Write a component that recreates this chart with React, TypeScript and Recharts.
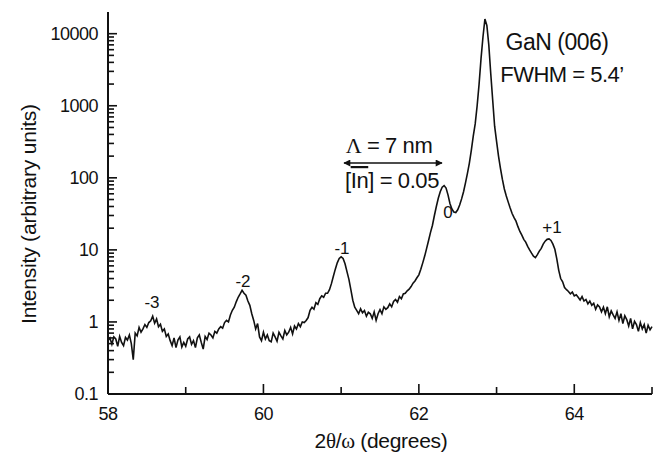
import React from "react"
import { LineChart, Line, XAxis, YAxis } from "recharts"

// 2theta/omega scan, sampled every 0.025 deg
const angles = [
  58.0, 58.025, 58.05, 58.075, 58.1, 58.125, 58.15, 58.175, 58.2, 58.225,
  58.25, 58.275, 58.3, 58.325, 58.35, 58.375, 58.4, 58.425, 58.45, 58.475,
  58.5, 58.525, 58.55, 58.575, 58.6, 58.625, 58.65, 58.675, 58.7, 58.725,
  58.75, 58.775, 58.8, 58.825, 58.85, 58.875, 58.9, 58.925, 58.95, 58.975,
  59.0, 59.025, 59.05, 59.075, 59.1, 59.125, 59.15, 59.175, 59.2, 59.225,
  59.25, 59.275, 59.3, 59.325, 59.35, 59.375, 59.4, 59.425, 59.45, 59.475,
  59.5, 59.525, 59.55, 59.575, 59.6, 59.625, 59.65, 59.675, 59.7, 59.725,
  59.75, 59.775, 59.8, 59.825, 59.85, 59.875, 59.9, 59.925, 59.95, 59.975,
  60.0, 60.025, 60.05, 60.075, 60.1, 60.125, 60.15, 60.175, 60.2, 60.225,
  60.25, 60.275, 60.3, 60.325, 60.35, 60.375, 60.4, 60.425, 60.45, 60.475,
  60.5, 60.525, 60.55, 60.575, 60.6, 60.625, 60.65, 60.675, 60.7, 60.725,
  60.75, 60.775, 60.8, 60.825, 60.85, 60.875, 60.9, 60.925, 60.95, 60.975,
  61.0, 61.025, 61.05, 61.075, 61.1, 61.125, 61.15, 61.175, 61.2, 61.225,
  61.25, 61.275, 61.3, 61.325, 61.35, 61.375, 61.4, 61.425, 61.45, 61.475,
  61.5, 61.525, 61.55, 61.575, 61.6, 61.625, 61.65, 61.675, 61.7, 61.725,
  61.75, 61.775, 61.8, 61.825, 61.85, 61.875, 61.9, 61.925, 61.95, 61.975,
  62.0, 62.025, 62.05, 62.075, 62.1, 62.125, 62.15, 62.175, 62.2, 62.225,
  62.25, 62.275, 62.3, 62.325, 62.35, 62.375, 62.4, 62.425, 62.45, 62.475,
  62.5, 62.525, 62.55, 62.575, 62.6, 62.625, 62.65, 62.675, 62.7, 62.725,
  62.75, 62.775, 62.8, 62.825, 62.85, 62.875, 62.9, 62.925, 62.95, 62.975,
  63.0, 63.025, 63.05, 63.075, 63.1, 63.125, 63.15, 63.175, 63.2, 63.225,
  63.25, 63.275, 63.3, 63.325, 63.35, 63.375, 63.4, 63.425, 63.45, 63.475,
  63.5, 63.525, 63.55, 63.575, 63.6, 63.625, 63.65, 63.675, 63.7, 63.725,
  63.75, 63.775, 63.8, 63.825, 63.85, 63.875, 63.9, 63.925, 63.95, 63.975,
  64.0, 64.025, 64.05, 64.075, 64.1, 64.125, 64.15, 64.175, 64.2, 64.225,
  64.25, 64.275, 64.3, 64.325, 64.35, 64.375, 64.4, 64.425, 64.45, 64.475,
  64.5, 64.525, 64.55, 64.575, 64.6, 64.625, 64.65, 64.675, 64.7, 64.725,
  64.75, 64.775, 64.8, 64.825, 64.85, 64.875, 64.9, 64.925, 64.95, 64.975,
  65.0,
]

const intensity = [
  0.55, 0.6, 0.49, 0.62, 0.58, 0.46, 0.63, 0.52, 0.47, 0.61,
  0.56, 0.66, 0.5, 0.3, 0.7, 0.64, 0.84, 0.72, 0.8, 0.92,
  0.84, 0.98, 1.04, 1.2, 0.96, 1.1, 0.86, 0.93, 0.74, 0.8,
  0.63, 0.68, 0.55, 0.47, 0.6, 0.44, 0.56, 0.62, 0.45, 0.52,
  0.46, 0.58, 0.62, 0.49, 0.55, 0.44, 0.6, 0.66, 0.52, 0.42,
  0.63, 0.57, 0.7, 0.66, 0.6, 0.74, 0.7, 0.8, 0.86, 0.82,
  0.98, 1.05, 1.0, 1.25, 1.45, 1.6, 1.9, 2.2, 2.45, 2.75,
  2.5, 2.35, 1.95, 1.7, 1.3, 1.05, 0.8, 0.95, 0.62, 0.55,
  0.72, 0.58, 0.66, 0.55, 0.53, 0.7, 0.62, 0.54, 0.72, 0.64,
  0.58, 0.76, 0.66, 0.72, 0.84, 0.68, 0.88, 0.8, 0.95, 0.86,
  1.0, 0.98, 1.05, 1.15, 1.45, 1.6, 1.5, 1.85, 1.75, 2.1,
  2.3, 2.2, 2.5, 2.5, 2.8, 3.4, 4.3, 5.4, 6.6, 7.6,
  8.0, 7.6, 6.4, 5.0, 3.9, 2.8, 2.0, 1.6, 1.45, 1.3,
  1.52, 1.34, 1.44, 1.2, 1.36, 1.3, 1.12, 1.38, 1.05, 1.3,
  1.48, 1.3, 1.62, 1.5, 1.58, 1.78, 1.62, 1.92, 2.05, 1.88,
  2.25, 2.1, 2.45, 2.5, 2.7, 2.85, 3.1, 3.45, 3.7, 4.1,
  4.5, 5.4, 6.6, 8.2, 10.5, 13.5, 17.5, 22, 30, 40,
  52, 64, 74, 78, 72, 58, 44, 37, 33.5, 33,
  36, 42, 51, 64, 85, 115, 160, 240, 380, 560,
  1000, 2000, 4500, 9000, 16000, 13000, 7000, 2800, 1200, 520,
  320, 200, 135, 95, 70, 56, 46, 38, 32, 28,
  25, 21, 18, 16, 14, 12.8, 11.2, 10, 9, 8.2,
  7.8, 8.6, 9.6, 10.5, 12, 13.2, 14, 14.2, 13.5, 12,
  10.2, 7.5, 5.2, 4.0, 3.6, 3.0, 2.8, 2.65, 2.45, 2.6,
  2.3, 2.38, 2.2, 2.02, 2.25, 1.95, 2.05, 1.78, 1.95, 1.7,
  1.82, 1.5, 1.72, 1.62, 1.38, 1.6, 1.3, 1.62, 1.18, 1.42,
  1.25, 1.12, 1.38, 1.05, 1.3, 0.95, 1.22, 1.08, 0.88, 1.12,
  0.8, 1.02, 0.92, 0.74, 0.98, 0.8, 0.92, 0.7, 0.9, 0.78,
  0.86,
]

const xTicks = [58, 59, 60, 61, 62, 63, 64, 65]
const xMajorTicks = [58, 60, 62, 64]
const yTicks = [
  0.1, 0.2, 0.3, 0.4, 0.5, 0.6, 0.7, 0.8, 0.9,
  1, 2, 3, 4, 5, 6, 7, 8, 9,
  10, 20, 30, 40, 50, 60, 70, 80, 90,
  100, 200, 300, 400, 500, 600, 700, 800, 900,
  1000, 2000, 3000, 4000, 5000, 6000, 7000, 8000, 9000,
  10000,
]
const yDecades = [0.1, 1, 10, 100, 1000, 10000]
const yDecadeLabels = ["0.1", "1", "10", "100", "1000", "10000"]
const peakLabels = ["-3", "-2", "-1", "0", "+1"]

const data = angles.map((a, i) => ({ angle: a, intensity: intensity[i] }))

const W = 660
const H = 462
const PLOT_LEFT = 108
const PLOT_BOTTOM = 394
const SANS = "'Liberation Sans', Arial, Helvetica, sans-serif"
const SERIF = "'Liberation Serif', 'Times New Roman', serif"
const INK = "#111"

// one tick: inward mark plus (for the labelled ones) the number
function YTick(props: any) {
  const { y, payload } = props
  const idx = yDecades.indexOf(payload.value)
  const major = idx >= 0
  return (
    <g>
      <rect x={PLOT_LEFT} y={y - 0.8} width={major ? 9 : 6} height={1.6} fill={INK} />
      {major && (
        <text x={PLOT_LEFT - 10} y={y} dy="0.36em" textAnchor="end" fontFamily={SANS} fontSize={18} letterSpacing={-0.5} fill={INK}>
          {yDecadeLabels[idx]}
        </text>
      )}
    </g>
  )
}

function XTick(props: any) {
  const { x, payload } = props
  const major = xMajorTicks.indexOf(payload.value) >= 0
  return (
    <g>
      <rect x={x - 0.8} y={PLOT_BOTTOM - (major ? 10 : 7)} width={1.6} height={major ? 10 : 7} fill={INK} />
      {major && (
        <text x={x} y={PLOT_BOTTOM + 26} textAnchor="middle" fontFamily={SANS} fontSize={18} letterSpacing={-0.5} fill={INK}>
          {payload.value}
        </text>
      )}
    </g>
  )
}

export default function App() {
  return (
    <div style={{ position: "absolute", left: 0, top: 0, width: W, height: H, background: "#fff" }}>
      <LineChart width={W} height={H} data={data} margin={{ top: 12, right: 8, bottom: 0, left: 0 }}>
        <XAxis
          dataKey="angle"
          type="number"
          domain={[58, 65]}
          ticks={xTicks}
          interval={0}
          height={68}
          tickLine={false}
          axisLine={{ stroke: INK, strokeWidth: 2 }}
          tick={<XTick />}
        />
        <XAxis xAxisId="top" orientation="top" type="number" domain={[58, 65]} height={0} tick={false} tickLine={false} axisLine={{ stroke: INK, strokeWidth: 1.8 }} />
        <YAxis
          type="number"
          scale="log"
          domain={[0.1, 20000]}
          ticks={yTicks}
          interval={0}
          width={108}
          tickLine={false}
          axisLine={{ stroke: INK, strokeWidth: 2 }}
          tick={<YTick />}
          allowDataOverflow
        />
        <YAxis yAxisId="right" orientation="right" type="number" domain={[0, 1]} width={0} tick={false} tickLine={false} axisLine={{ stroke: INK, strokeWidth: 1.8 }} />
        <Line
          dataKey="intensity"
          type="linear"
          stroke={INK}
          strokeWidth={1.6}
          dot={false}
          isAnimationActive={false}
        />
      </LineChart>
      <svg width={W} height={H} style={{ position: "absolute", left: 0, top: 0, pointerEvents: "none" }}>
        <defs>
          <marker id="arrowHead" viewBox="0 0 10 10" refX="9" refY="5" markerWidth="10" markerHeight="7" orient="auto-start-reverse" markerUnits="userSpaceOnUse">
            <path d="M0,0 L10,5 L0,10 z" fill={INK} />
          </marker>
        </defs>
        <g fontFamily={SANS} fill={INK}>
          <text x={152} y={308} fontSize={17} textAnchor="middle">{peakLabels[0]}</text>
          <text x={243} y={287} fontSize={17} textAnchor="middle">{peakLabels[1]}</text>
          <text x={342} y={254} fontSize={17} textAnchor="middle">{peakLabels[2]}</text>
          <text x={448} y={218} fontSize={17} textAnchor="middle">{peakLabels[3]}</text>
          <text x={552} y={233} fontSize={17} textAnchor="middle">{peakLabels[4]}</text>

          <text x={557} y={50} fontSize={23} letterSpacing={-0.5} textAnchor="middle">GaN (006)</text>
          <text x={562} y={82} fontSize={22} letterSpacing={-0.5} textAnchor="middle">FWHM = 5.4’</text>

          <text x={389} y={153} fontSize={22} letterSpacing={-0.4} textAnchor="middle">
            <tspan fontFamily={SERIF}>Λ</tspan> = 7 nm
          </text>
          <line x1={344} x2={442} y1={163} y2={163} stroke={INK} strokeWidth={1.4} markerStart="url(#arrowHead)" markerEnd="url(#arrowHead)" />
          <text x={392} y={188} fontSize={22} letterSpacing={-0.4} textAnchor="middle">
            [<tspan style={{ textDecoration: "overline" }}>In</tspan>] = 0.05
          </text>

          <text x={381} y={448} fontSize={21} letterSpacing={-0.3} textAnchor="middle">
            2<tspan fontFamily={SERIF}>θ</tspan>/<tspan fontFamily={SERIF}>ω</tspan> (degrees)
          </text>
          <text x={36} y={214} fontSize={21} letterSpacing={-0.2} textAnchor="middle" transform="rotate(-90, 36, 214)">
            Intensity (arbitrary units)
          </text>
        </g>
      </svg>
    </div>
  )
}
